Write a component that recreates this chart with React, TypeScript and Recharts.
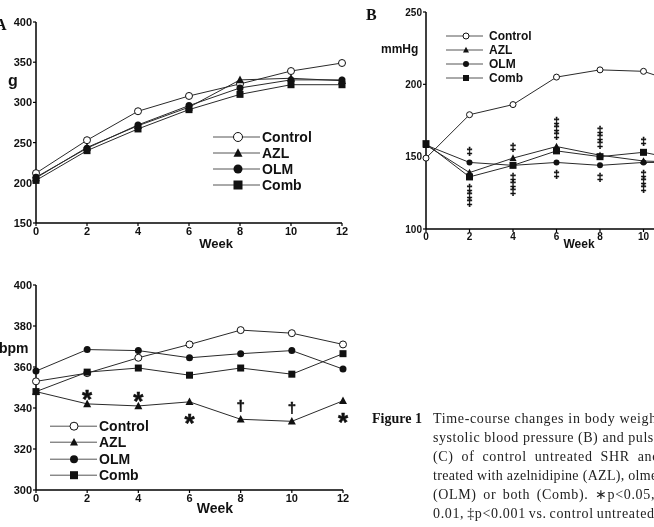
import React from 'react'
import { LineChart, Line, XAxis, YAxis } from 'recharts'

const weeks = [0, 2, 4, 6, 8, 10, 12]

// body weight (g)
const weightControl = [212, 253, 289, 308, 323, 339, 349]
const weightAZL = [206, 244, 271, 294, 328, 330, 327]
const weightOLM = [207, 243, 272, 296, 318, 328, 328]
const weightComb = [203, 240, 267, 291, 310, 322, 322]

// systolic blood pressure (mmHg)
const sbpControl = [149, 179, 186, 205, 210, 209, 199]
const sbpAZL = [158, 139, 149, 157, 151, 147, 146]
const sbpOLM = [158, 146, 144, 146, 144, 146, 146]
const sbpComb = [159, 136, 144, 154, 150, 153, 147]
const sbpMarksAbove = [0, 1, 1, 3, 3, 1, 0]
const sbpMarksBelow = [0, 3, 3, 1, 1, 3, 0]

// pulse rate (bpm)
const prControl = [353, 357, 364.5, 371, 378, 376.5, 371]
const prAZL = [348, 342, 341, 343, 334.5, 333.5, 343.5]
const prOLM = [358, 368.5, 368, 364.5, 366.5, 368, 359]
const prComb = [348, 357.5, 359.5, 356, 359.5, 356.5, 366.5]
const prMarks = ['', '*', '*', '*', '†', '†', '*']
const prMarkBelow = [false, false, false, true, false, false, true]

const groups = ['Control', 'AZL', 'OLM', 'Comb']
type Shape = 'open' | 'tri' | 'dot' | 'sq'
const shapes: Shape[] = ['open', 'tri', 'dot', 'sq']

const SANS = '"Liberation Sans", Arial, sans-serif'
const SERIF = '"Liberation Serif", "Times New Roman", serif'
const INK = '#111'
const LINE = '#2a2a2a'

function Marker({ shape, cx, cy, s }: { shape: Shape; cx: number; cy: number; s: number }) {
  if (shape === 'open') return <circle cx={cx} cy={cy} r={s / 2} fill="#fff" stroke={INK} strokeWidth={1} />
  if (shape === 'dot') return <circle cx={cx} cy={cy} r={s / 2} fill={INK} />
  if (shape === 'sq') return <rect x={cx - s / 2} y={cy - s / 2} width={s} height={s} fill={INK} />
  const h = s * 0.9
  return <polygon points={`${cx},${cy - h * 0.6} ${cx - s / 2},${cy + h * 0.45} ${cx + s / 2},${cy + h * 0.45}`} fill={INK} />
}

const dotFor = (shape: Shape, s: number, key: string) => (p: any) => (
  <Marker key={`${key}-${p.index}`} shape={shape} cx={p.cx} cy={p.cy} s={s} />
)

const weightData = weeks.map((w, i) => ({
  week: w, Control: weightControl[i], AZL: weightAZL[i], OLM: weightOLM[i], Comb: weightComb[i],
}))

const sbpData = weeks.map((w, i) => ({
  week: w, Control: sbpControl[i], AZL: sbpAZL[i], OLM: sbpOLM[i], Comb: sbpComb[i],
  hi: Math.max(sbpAZL[i], sbpOLM[i], sbpComb[i]),
  lo: Math.min(sbpAZL[i], sbpOLM[i], sbpComb[i]),
  above: sbpMarksAbove[i], below: sbpMarksBelow[i],
}))

const prData = weeks.map((w, i) => ({
  week: w, Control: prControl[i], AZL: prAZL[i], OLM: prOLM[i], Comb: prComb[i],
  mark: prMarks[i], below: prMarkBelow[i],
}))

const axisProps = {
  axisLine: { stroke: '#000', strokeWidth: 1.5 },
  tickLine: { stroke: '#000', strokeWidth: 1.2 },
  tickSize: 3,
  tickMargin: 1,
}

function Legend({ left, top, rowH, lineW, markX, fontSize, s, gap = 2 }: any) {
  return (
    <div style={{ position: 'absolute', left, top, fontFamily: SANS, fontWeight: 'bold', fontSize, color: INK }}>
      {groups.map((g, i) => (
        <div key={g} style={{ display: 'flex', alignItems: 'center', height: rowH }}>
          <svg width={lineW} height={rowH} style={{ display: 'block' }}>
            <line x1={0} x2={lineW} y1={rowH / 2} y2={rowH / 2} stroke="#555" strokeWidth={1} />
            <Marker shape={shapes[i]} cx={markX} cy={rowH / 2} s={s} />
          </svg>
          <span style={{ marginLeft: gap, lineHeight: `${rowH}px` }}>{g}</span>
        </div>
      ))}
    </div>
  )
}

function Text({ x, y, size, children, serif, center }: any) {
  return (
    <div style={{
      position: 'absolute', left: x, top: y - size / 2, lineHeight: `${size}px`, fontSize: size,
      fontFamily: serif ? SERIF : SANS, fontWeight: 'bold', color: INK, whiteSpace: 'nowrap',
      transform: center ? 'translateX(-50%)' : undefined,
    }}>{children}</div>
  )
}

function series(data: any, sizes: number[], key: string) {
  return groups.map((g, i) => (
    <Line key={g} dataKey={g} stroke={LINE} strokeWidth={1} isAnimationActive={false}
      dot={dotFor(shapes[i], sizes[i], `${key}-${g}`)} activeDot={false} />
  ))
}

const markStyle = { fill: INK, stroke: INK, strokeWidth: 0.5, fontWeight: 'bold' as const, fontFamily: SANS }

// stacked double-dagger marks over / under the treated groups
const daggers = (dir: 'above' | 'below') => (p: any) => {
  const n = p.payload[dir]
  const out = []
  for (let k = 0; k < n; k++) {
    const c = dir === 'above' ? p.cy - 11 - k * 7 : p.cy + 12 + k * 7
    out.push(
      <text key={k} x={p.cx} y={c + 3.5} textAnchor="middle" fontSize={11} style={markStyle}>‡</text>
    )
  }
  return <g key={`${dir}-${p.index}`}>{out}</g>
}

// AZL markers with significance symbols for the pulse panel
const azlPulseDot = (p: any) => {
  const m = p.payload.mark
  let label = null
  if (m === '*') {
    const c = p.payload.below ? p.cy + 16 : p.cy - 10
    label = <text x={p.cx} y={c + 14} textAnchor="middle" fontSize={26} style={markStyle}>*</text>
  } else if (m) {
    const c = p.cy - 13
    label = <text x={p.cx} y={c + 4.5} textAnchor="middle" fontSize={15} style={markStyle}>{m}</text>
  }
  return (
    <g key={`azl-pr-${p.index}`}>
      <Marker shape="tri" cx={p.cx} cy={p.cy} s={8} />
      {label}
    </g>
  )
}

const captionLines = [
  'Time-course changes in body weight (A),',
  'systolic blood pressure (B) and pulse rate',
  '(C) of control untreated SHR and SHR',
  'treated with azelnidipine (AZL), olmesartan',
  '(OLM) or both (Comb). ∗p<0.05, †p<',
  '0.01, ‡p<0.001 vs. control untreated SHR.',
]
const captionWordSpacing = [0, 0, 3.8, 0, 2.4, -1.2]
const captionLetterSpacing = [0.65, 0.55, 0.65, 0.3, 0.65, 0.65]

export default function App() {
  return (
    <div style={{ position: 'relative', width: 654, height: 527, overflow: 'hidden', background: '#fff', filter: 'grayscale(1)' }}>
      <style>{'body{margin:0}'}</style>

      {/* A: body weight */}
      <div style={{ position: 'absolute', left: 0, top: 0 }}>
        <LineChart width={360} height={260} data={weightData} margin={{ top: 22, right: 18, bottom: 0, left: 0 }}>
          <XAxis dataKey="week" type="number" domain={[0, 12]} ticks={weeks} height={37} {...axisProps}
            tick={{ fill: INK, fontSize: 11, fontWeight: 'bold', fontFamily: SANS }} />
          <YAxis type="number" domain={[150, 400]} ticks={[150, 200, 250, 300, 350, 400]} width={36} {...axisProps}
            tick={{ fill: INK, fontSize: 11, fontWeight: 'bold', fontFamily: SANS }} />
          {series(weightData, [7, 8, 7, 7], 'w')}
        </LineChart>
      </div>
      <Text x={-5} y={25} size={16} serif>A</Text>
      <Text x={8} y={81} size={16}>g</Text>
      <Text x={216} y={243} size={13} center>Week</Text>
      <Legend left={213} top={129} rowH={16} lineW={47} markX={25} fontSize={14} s={9} />

      {/* B: systolic blood pressure */}
      <div style={{ position: 'absolute', left: 390, top: 0 }}>
        <LineChart width={320} height={262} data={sbpData} margin={{ top: 12, right: 23, bottom: 0, left: 0 }}>
          <XAxis dataKey="week" type="number" domain={[0, 12]} ticks={weeks} height={33} {...axisProps}
            tick={{ fill: INK, fontSize: 10, fontWeight: 'bold', fontFamily: SANS }} />
          <YAxis type="number" domain={[100, 250]} ticks={[100, 150, 200, 250]} width={36} {...axisProps}
            tick={{ fill: INK, fontSize: 10, fontWeight: 'bold', fontFamily: SANS }} />
          {series(sbpData, [6, 7, 6, 7], 'b')}
          <Line dataKey="hi" stroke="none" isAnimationActive={false} dot={daggers('above')} activeDot={false} legendType="none" />
          <Line dataKey="lo" stroke="none" isAnimationActive={false} dot={daggers('below')} activeDot={false} legendType="none" />
        </LineChart>
      </div>
      <Text x={366} y={15} size={16} serif>B</Text>
      <Text x={381} y={49} size={12}>mmHg</Text>
      <Text x={579} y={244} size={12} center>Week</Text>
      <Legend left={446} top={29} rowH={14} lineW={37} markX={20} fontSize={12} s={6} gap={6} />

      {/* C: pulse rate */}
      <div style={{ position: 'absolute', left: 0, top: 260 }}>
        <LineChart width={360} height={267} data={prData} margin={{ top: 25, right: 17, bottom: 0, left: 0 }}>
          <XAxis dataKey="week" type="number" domain={[0, 12]} ticks={weeks} height={37} {...axisProps}
            tick={{ fill: INK, fontSize: 11, fontWeight: 'bold', fontFamily: SANS }} />
          <YAxis type="number" domain={[300, 400]} ticks={[300, 320, 340, 360, 380, 400]} width={36} {...axisProps}
            tick={{ fill: INK, fontSize: 11, fontWeight: 'bold', fontFamily: SANS }} />
          <Line dataKey="Control" stroke={LINE} strokeWidth={1} isAnimationActive={false} dot={dotFor('open', 7, 'pc')} activeDot={false} />
          <Line dataKey="AZL" stroke={LINE} strokeWidth={1} isAnimationActive={false} dot={azlPulseDot} activeDot={false} />
          <Line dataKey="OLM" stroke={LINE} strokeWidth={1} isAnimationActive={false} dot={dotFor('dot', 7, 'po')} activeDot={false} />
          <Line dataKey="Comb" stroke={LINE} strokeWidth={1} isAnimationActive={false} dot={dotFor('sq', 7, 'pm')} activeDot={false} />
        </LineChart>
      </div>
      <Text x={-1} y={348} size={14}>bpm</Text>
      <Text x={215} y={508} size={14} center>Week</Text>
      <Legend left={50} top={418} rowH={16.4} lineW={47} markX={24} fontSize={14} s={8} />

      {/* caption */}
      <div style={{ position: 'absolute', left: 372, top: 409, fontFamily: SERIF, fontWeight: 'bold', fontSize: 14, lineHeight: '19px', color: INK }}>
        Figure 1
      </div>
      <div style={{ position: 'absolute', left: 433, top: 409, fontFamily: SERIF, fontSize: 14, lineHeight: '19px', color: '#222', whiteSpace: 'pre' }}>
        {captionLines.map((t, i) => (
          <div key={i} style={{ wordSpacing: captionWordSpacing[i], letterSpacing: captionLetterSpacing[i] }}>{t}</div>
        ))}
      </div>
    </div>
  )
}
